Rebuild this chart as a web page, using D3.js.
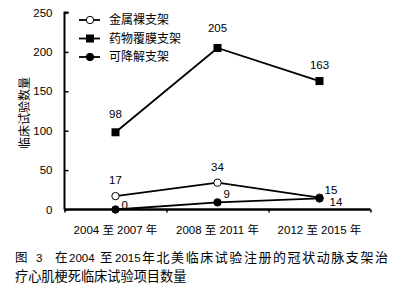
<!DOCTYPE html>
<html>
<head>
<meta charset="utf-8">
<script src="https://cdn.jsdelivr.net/npm/d3@7"></script>
<style>
body { margin: 0; background: #fff; }
text { font-family: "Liberation Sans", Arial, "Noto Sans CJK SC", sans-serif; fill: #000; }
</style>
</head>
<body>
<div id="drawing"></div>
<script>
"use strict"

/**** DATA ****/

let periods = ["2004 至 2007 年", "2008 至 2011 年", "2012 至 2015 年"]
let bareMetal = [17, 34, 15]
let drugCoated = [98, 205, 163]
let degradable = [0, 9, 14]
let seriesNames = ["金属裸支架", "药物覆膜支架", "可降解支架"]
let yTicks = [0, 50, 100, 150, 200, 250]
let captionHead = ["图", "3", "在", "2004", "至", "2015"]
let captionTail = "年北美临床试验注册的冠状动脉支架治"
let captionLine2 = "疗心肌梗死临床试验项目数量"


/**** CONFIGURATION ****/

let svgWidth = 415
let svgHeight = 291

let plotLeft = 64.5
let plotRight = 370.5
let plotTop = 12.5
let plotBottom = 209.5

let headX = [15, 36, 55, 69, 100, 115]


/**** CANVAS ****/

let svg = d3.select("#drawing")
.append("svg")
.attr("width", svgWidth)
.attr("height", svgHeight)

let xScale = d3.scaleBand()
.domain(periods)
.range([plotLeft, plotRight])

let yScale = d3.scaleLinear()
.domain([0, 250])
.range([plotBottom, plotTop])

let cx = i => xScale(periods[i]) + xScale.bandwidth() / 2


/**** AXES ****/

let yAxis = svg.append("g")
.attr("transform", "translate(" + plotLeft + ",0)")
.call(d3.axisRight(yScale).tickValues(yTicks).tickSize(4).tickFormat(""))
yAxis.select(".domain").attr("stroke-width", 2).attr("d", "M4," + plotTop + "H0V" + plotBottom)
yAxis.selectAll(".tick line").attr("stroke-width", 1.5)

for (let t of yTicks) {
svg.append("text")
.attr("x", plotLeft - 12)
.attr("y", yScale(t))
.attr("dy", "0.35em")
.style("text-anchor", "end")
.style("font-size", "11.5px")
.text(t)
}

let xAxis = svg.append("g")
.attr("transform", "translate(0," + plotBottom + ")")
.call(d3.axisBottom(d3.scaleLinear().domain([0, 3]).range([plotLeft, plotRight])).ticks(3).tickSize(3).tickFormat(""))
xAxis.select(".domain").attr("stroke-width", 2.5).attr("d", "M" + plotLeft + ",0H" + plotRight)
xAxis.selectAll(".tick line").attr("stroke-width", 1.5)

svg.selectAll(".xlabel")
.data(periods)
.join("text")
.attr("class", "xlabel")
.attr("x", (d, i) => cx(i))
.attr("y", 234)
.style("text-anchor", "middle")
.style("font-size", "11.5px")
.text(d => d)

svg.append("text")
.attr("transform", "translate(29,113) rotate(-90)")
.style("text-anchor", "middle")
.style("font-size", "12px")
.text("临床试验数量")


/**** LINES ****/

let line = d3.line()
.x((d, i) => cx(i))
.y(d => yScale(d))

let allSeries = [bareMetal, drugCoated, degradable]

svg.selectAll(".series")
.data(allSeries)
.join("path")
.attr("class", "series")
.attr("d", d => line(d))
.attr("fill", "none")
.attr("stroke", "black")
.attr("stroke-width", 1.8)

function drawMarker(g, type, x, y) {
if (type == 1) {
g.append("rect")
.attr("x", x - 4).attr("y", y - 4)
.attr("width", 8).attr("height", 8)
.attr("fill", "black")
} else {
g.append("circle")
.attr("cx", x).attr("cy", y)
.attr("r", 3.7)
.attr("fill", type == 0 ? "white" : "black")
.attr("stroke", "black")
.attr("stroke-width", 1)
}
}

allSeries.forEach(function(s, k) {
s.forEach(function(v, i) {
drawMarker(svg, k, cx(i), yScale(v))
})
})


/**** VALUE LABELS ****/

// offsets from each point: [dx, dy]
let labelOffsets = [
[[0, -12], [0, -12], [5, -4]],
[[0, -14], [0, -16], [0, -12]],
[[6, -1], [6, -4], [10, 8]]
]

allSeries.forEach(function(s, k) {
s.forEach(function(v, i) {
let off = labelOffsets[k][i]
svg.append("text")
.attr("x", cx(i) + off[0])
.attr("y", yScale(v) + off[1])
.style("text-anchor", off[0] == 0 ? "middle" : "start")
.style("font-size", "11.5px")
.text(v)
})
})


/**** LEGEND ****/

let legend = svg.append("g")

seriesNames.forEach(function(name, k) {
let y = 20 + k * 18.5
legend.append("line")
.attr("x1", 79).attr("x2", 100)
.attr("y1", y).attr("y2", y)
.attr("stroke", "black")
.attr("stroke-width", 1.8)
drawMarker(legend, k, 90, y)
legend.append("text")
.attr("x", 109)
.attr("y", y)
.attr("dy", "0.35em")
.style("font-size", "12px")
.text(name)
})


/**** CAPTION ****/

let cap1 = svg.append("text")
.attr("y", 262)
.style("font-size", "12.5px")

captionHead.forEach(function(t, i) {
cap1.append("tspan")
.attr("x", headX[i])
.style("font-size", /\d/.test(t) ? "11.5px" : "12.5px")
.text(t)
})

cap1.append("tspan")
.attr("x", 142)
.attr("textLength", 246)
.attr("lengthAdjust", "spacing")
.style("font-size", "13px")
.text(captionTail)

svg.append("text")
.attr("x", 15)
.attr("y", 281)
.style("font-size", "13.2px")
.text(captionLine2)
</script>
</body>
</html>
